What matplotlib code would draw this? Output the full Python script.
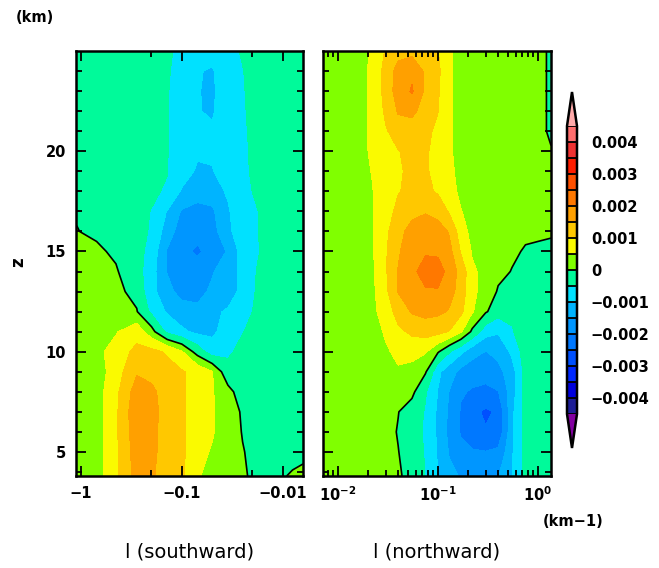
import numpy as np
import matplotlib
matplotlib.use("Agg")
import matplotlib.pyplot as plt
from matplotlib.colors import ListedColormap, BoundaryNorm
from matplotlib.ticker import FixedLocator, NullFormatter, FixedFormatter
from matplotlib.font_manager import FontProperties

# ---------------- data (values in 1e-3 units) ----------------
z_km = [3.8, 5, 6, 7, 8, 9, 10, 11, 12, 13, 14, 15, 16, 17, 18, 19, 20, 21, 22, 23, 24, 25]

# |l| of southward wavenumbers (plotted as -l), km^-1
l_south = [1.1, 0.7, 0.45, 0.28, 0.2, 0.14, 0.1, 0.07, 0.05, 0.035, 0.025, 0.018, 0.012, 0.008, 0.0063]
# northward wavenumbers, km^-1
l_north = [0.007, 0.01, 0.015, 0.022, 0.03, 0.04, 0.055, 0.075, 0.1, 0.13, 0.17, 0.22, 0.3, 0.4, 0.55, 0.75, 1.0, 1.35]

south_vals = [
    [0.25, 0.25, 0.9, 1.65, 1.55, 1.35, 1.1, 0.55, 0.35, 0.2, 0.05, -0.08, -0.05, 0.02, 0.06],
    [0.25, 0.25, 0.9, 1.7, 1.6, 1.35, 1.1, 0.7, 0.45, 0.25, 0.02, -0.1, -0.08, -0.06, -0.06],
    [0.25, 0.25, 0.9, 1.75, 1.65, 1.3, 1.05, 0.85, 0.55, 0.25, -0.02, -0.12, -0.1, -0.06, -0.05],
    [0.25, 0.25, 0.9, 1.8, 1.7, 1.3, 1.05, 0.85, 0.55, 0.25, -0.05, -0.15, -0.12, -0.08, -0.05],
    [0.25, 0.25, 0.85, 1.7, 1.65, 1.25, 1.05, 0.85, 0.55, 0.15, -0.2, -0.2, -0.12, -0.08, -0.05],
    [0.25, 0.25, 0.7, 1.45, 1.3, 1.15, 1.05, 0.85, 0.52, -0.3, -0.25, -0.2, -0.12, -0.08, -0.05],
    [0.25, 0.3, 0.75, 1.1, 1.15, 0.95, 0.55, -0.2, -0.75, -0.6, -0.35, -0.25, -0.15, -0.1, -0.08],
    [0.35, 0.35, 0.45, 0.85, 0.2, -0.6, -0.9, -1.1, -1.1, -0.8, -0.52, -0.35, -0.18, -0.1, -0.08],
    [0.45, 0.35, 0.25, 0.03, -0.6, -1.05, -1.3, -1.35, -1.1, -0.95, -0.75, -0.4, -0.2, -0.1, -0.08],
    [0.4, 0.3, 0.15, -0.15, -0.8, -1.35, -1.65, -1.7, -1.4, -1.2, -0.9, -0.45, -0.22, -0.12, -0.08],
    [0.35, 0.25, 0.05, -0.3, -0.75, -1.52, -1.8, -1.85, -1.55, -1.2, -0.9, -0.48, -0.25, -0.15, -0.1],
    [0.25, 0.1, -0.08, -0.38, -0.6, -1.55, -1.9, -2.05, -1.9, -1.45, -0.82, -0.55, -0.28, -0.15, -0.1],
    [0.02, -0.1, -0.2, -0.32, -0.55, -1.2, -1.75, -1.9, -1.75, -1.1, -0.78, -0.52, -0.25, -0.15, -0.1],
    [-0.05, -0.12, -0.2, -0.3, -0.52, -1.02, -1.55, -1.7, -1.6, -1.05, -0.75, -0.52, -0.25, -0.15, -0.1],
    [-0.12, -0.18, -0.25, -0.33, -0.4, -0.56, -1.05, -1.25, -1.2, -0.95, -0.68, -0.42, -0.22, -0.15, -0.1],
    [-0.15, -0.18, -0.25, -0.33, -0.42, -0.48, -0.8, -1.05, -1.02, -0.85, -0.62, -0.38, -0.2, -0.15, -0.1],
    [-0.15, -0.18, -0.25, -0.33, -0.42, -0.48, -0.75, -0.95, -0.95, -0.82, -0.6, -0.38, -0.2, -0.15, -0.1],
    [-0.15, -0.18, -0.25, -0.32, -0.42, -0.47, -0.72, -0.92, -0.95, -0.8, -0.58, -0.36, -0.2, -0.15, -0.1],
    [-0.15, -0.18, -0.25, -0.3, -0.4, -0.47, -0.7, -0.98, -1.04, -0.8, -0.56, -0.34, -0.2, -0.15, -0.1],
    [-0.15, -0.18, -0.25, -0.3, -0.4, -0.47, -0.68, -0.98, -1.06, -0.8, -0.54, -0.33, -0.2, -0.15, -0.1],
    [-0.15, -0.18, -0.22, -0.28, -0.38, -0.45, -0.65, -0.97, -1.04, -0.78, -0.52, -0.3, -0.2, -0.15, -0.1],
    [-0.15, -0.18, -0.22, -0.28, -0.36, -0.44, -0.58, -0.82, -0.85, -0.7, -0.45, -0.28, -0.2, -0.15, -0.1],
]

north_vals = [
    [0.15, 0.2, 0.25, 0.2, 0.12, 0.05, -0.15, -0.52, -1.02, -1.35, -1.55, -1.7, -1.7, -1.52, -1.02, -0.3, -0.15, -0.1],
    [0.15, 0.2, 0.25, 0.2, 0.1, 0.01, -0.2, -0.55, -1.05, -1.55, -1.85, -1.95, -1.98, -1.9, -1.05, -0.3, -0.15, -0.1],
    [0.15, 0.2, 0.25, 0.2, 0.1, -0.02, -0.25, -0.6, -1.1, -1.65, -2.05, -2.3, -2.45, -2.35, -1.1, -0.3, -0.15, -0.1],
    [0.15, 0.2, 0.25, 0.25, 0.15, 0.01, -0.2, -0.55, -1.1, -1.6, -2.05, -2.35, -2.6, -2.4, -1.1, -0.3, -0.15, -0.1],
    [0.15, 0.2, 0.25, 0.3, 0.3, 0.25, 0.1, -0.45, -1.02, -1.52, -1.95, -2.05, -2.1, -2.02, -1.2, -0.3, -0.15, -0.1],
    [0.15, 0.2, 0.3, 0.35, 0.4, 0.45, 0.35, 0.05, -0.9, -1.3, -1.65, -1.8, -1.85, -1.65, -1.2, -0.3, -0.15, -0.1],
    [0.15, 0.2, 0.3, 0.35, 0.45, 0.6, 0.65, 0.55, 0.05, -0.45, -0.9, -1.3, -1.52, -1.35, -0.9, -0.2, -0.15, -0.1],
    [0.15, 0.2, 0.3, 0.35, 0.55, 0.9, 1.1, 1.2, 1.15, 0.98, 0.55, -0.1, -0.8, -0.95, -0.52, -0.35, -0.25, -0.15],
    [0.15, 0.2, 0.3, 0.38, 0.75, 1.2, 1.55, 1.65, 1.6, 1.45, 1.1, 0.55, 0.05, -0.3, -0.45, -0.4, -0.3, -0.2],
    [0.15, 0.2, 0.3, 0.4, 0.9, 1.52, 1.85, 1.95, 1.95, 1.7, 1.25, 0.6, 0.3, -0.05, -0.15, -0.2, -0.2, -0.15],
    [0.15, 0.2, 0.3, 0.42, 0.95, 1.52, 1.9, 2.2, 2.25, 1.8, 1.3, 0.6, 0.3, 0.12, -0.02, -0.1, -0.12, -0.12],
    [0.15, 0.2, 0.3, 0.45, 0.95, 1.45, 1.8, 1.95, 1.9, 1.65, 0.95, 0.45, 0.25, 0.15, 0.08, -0.05, -0.08, -0.1],
    [0.15, 0.2, 0.3, 0.46, 0.9, 1.35, 1.7, 1.85, 1.75, 1.45, 0.7, 0.35, 0.2, 0.2, 0.15, 0.1, 0.08, 0.05],
    [0.15, 0.2, 0.3, 0.47, 0.85, 1.1, 1.35, 1.45, 1.3, 0.95, 0.52, 0.3, 0.2, 0.2, 0.15, 0.1, 0.08, 0.05],
    [0.15, 0.2, 0.3, 0.48, 0.8, 0.98, 1.1, 1.08, 0.95, 0.65, 0.4, 0.25, 0.2, 0.2, 0.15, 0.1, 0.08, 0.05],
    [0.15, 0.2, 0.3, 0.52, 0.8, 0.95, 1.1, 1.05, 0.85, 0.58, 0.38, 0.25, 0.2, 0.2, 0.15, 0.1, 0.08, 0.05],
    [0.15, 0.2, 0.3, 0.58, 0.85, 0.98, 1.15, 1.05, 0.85, 0.55, 0.35, 0.25, 0.2, 0.2, 0.15, 0.1, 0.08, 0.02],
    [0.15, 0.2, 0.3, 0.58, 0.95, 1.25, 1.3, 1.15, 0.85, 0.55, 0.35, 0.25, 0.2, 0.2, 0.15, 0.1, 0.08, -0.05],
    [0.15, 0.2, 0.3, 0.58, 1.1, 1.55, 1.6, 1.3, 1.02, 0.55, 0.35, 0.25, 0.2, 0.2, 0.15, 0.1, 0.08, -0.05],
    [0.15, 0.2, 0.3, 0.6, 1.2, 1.75, 2.05, 1.4, 1.05, 0.55, 0.35, 0.25, 0.2, 0.2, 0.15, 0.1, 0.08, -0.05],
    [0.15, 0.2, 0.3, 0.6, 1.2, 1.7, 1.9, 1.4, 1.1, 0.55, 0.35, 0.25, 0.2, 0.2, 0.15, 0.1, 0.08, -0.05],
    [0.15, 0.2, 0.3, 0.55, 1.05, 1.3, 1.35, 1.2, 1.02, 0.55, 0.35, 0.25, 0.2, 0.2, 0.15, 0.1, 0.08, -0.05],
]

cbar_ticks = [-0.004, -0.003, -0.002, -0.001, 0, 0.001, 0.002, 0.003, 0.004]
cbar_labels = ["\u22120.004", "\u22120.003", "\u22120.002", "\u22120.001", "0",
               "0.001", "0.002", "0.003", "0.004"]
south_ticks = [1.0, 0.1, 0.01]
south_labels = ["\u22121", "\u22120.1", "\u22120.01"]
north_ticks = [0.01, 0.1, 1.0]
north_labels = [r"$\mathbf{10^{-2}}$", r"$\mathbf{10^{-1}}$", r"$\mathbf{10^{0}}$"]
z_ticks = [5, 10, 15, 20]

# ---------------- styling ----------------
levels = np.arange(-4.5, 4.51, 0.5) * 1e-3
colors = ["#1E1E96", "#0000DC", "#0028FF", "#0050FF", "#0078FF", "#0096FF",
          "#00B4FF", "#00E1FF", "#00FA9A",
          "#80FF00", "#FAFA00", "#FFC800", "#FFA000", "#FF7800", "#FF5000",
          "#FF1E00", "#F03232", "#FF6E6E"]
cmap = ListedColormap(colors)
cmap.set_under("#8200A0")
cmap.set_over("#FFAAAA")
norm = BoundaryNorm(levels, cmap.N)

W, H = 659, 568
fig = plt.figure(figsize=(W / 100, H / 100), dpi=100)
axL = fig.add_axes([76 / W, 1 - 476 / H, 227 / W, 425 / H])
axR = fig.add_axes([323 / W, 1 - 476 / H, 228 / W, 425 / H])
cax = fig.add_axes([567 / W, 1 - 448 / H, 10 / W, 356 / H])

tickfont = dict(family="DejaVu Sans", weight="bold", size=10.5)
fp = FontProperties(**tickfont)


def draw(ax, lvals, vals):
    Z = np.array(vals) * 1e-3
    X = np.array(lvals)
    Y = np.array(z_km)
    cf = ax.contourf(X, Y, Z, levels=levels, cmap=cmap, norm=norm, extend="both")
    ax.contour(X, Y, Z, levels=[0.0], colors="black", linewidths=1.2)
    ax.set_xscale("log")
    ax.set_ylim(3.8, 25)
    ax.yaxis.set_major_locator(FixedLocator(z_ticks))
    ax.yaxis.set_minor_locator(FixedLocator(list(range(4, 25))))
    ax.tick_params(which="both", direction="in", top=True, right=True, width=1.3)
    ax.tick_params(which="major", length=7, pad=7)
    ax.tick_params(which="minor", length=4)
    for s in ax.spines.values():
        s.set_linewidth(1.8)
    return cf


cf = draw(axL, l_south, south_vals)
axL.set_xlim(1.12, 0.0063)
axL.xaxis.set_major_locator(FixedLocator(south_ticks))
axL.xaxis.set_major_formatter(FixedFormatter(south_labels))
axL.xaxis.set_minor_locator(FixedLocator([0.2, 0.02]))
axL.xaxis.set_minor_formatter(NullFormatter())
axL.set_yticklabels([str(t) for t in z_ticks])
for lab in axL.get_xticklabels() + axL.get_yticklabels():
    lab.set_fontproperties(fp)

draw(axR, l_north, north_vals)
axR.set_xlim(0.0071, 1.35)
axR.xaxis.set_major_locator(FixedLocator(north_ticks))
axR.xaxis.set_major_formatter(FixedFormatter(north_labels))
axR.xaxis.set_minor_formatter(NullFormatter())
axR.set_yticklabels([])
for lab in axR.get_xticklabels():
    lab.set_fontproperties(fp)

cb = fig.colorbar(cf, cax=cax, extend="both", extendfrac=0.118, ticks=cbar_ticks)
cb.set_ticklabels(cbar_labels)
cb.outline.set_linewidth(1.8)
cb.minorticks_off()
cax.hlines(levels, 0, 1, colors="black", linewidth=1.3,
           transform=cax.get_yaxis_transform(), clip_on=True)
cax.tick_params(which="both", length=0, pad=10, left=False)
for lab in cax.get_yticklabels():
    lab.set_fontproperties(fp)

fig.text(35 / W, 1 - 18 / H, "(km)", ha="center", va="center", **tickfont)
fig.text(18 / W, 1 - 262 / H, "z", ha="center", va="center", rotation=90,
         family="DejaVu Sans", weight="bold", size=12)
fig.text(573 / W, 1 - 522 / H, "(km\u22121)", ha="center", va="center", **tickfont)
fig.text(190 / W, 1 - 552 / H, "l (southward)", ha="center", va="center",
         family="DejaVu Sans", size=14)
fig.text(437 / W, 1 - 552 / H, "l (northward)", ha="center", va="center",
         family="DejaVu Sans", size=14)

fig.savefig("out.png", dpi=100)
